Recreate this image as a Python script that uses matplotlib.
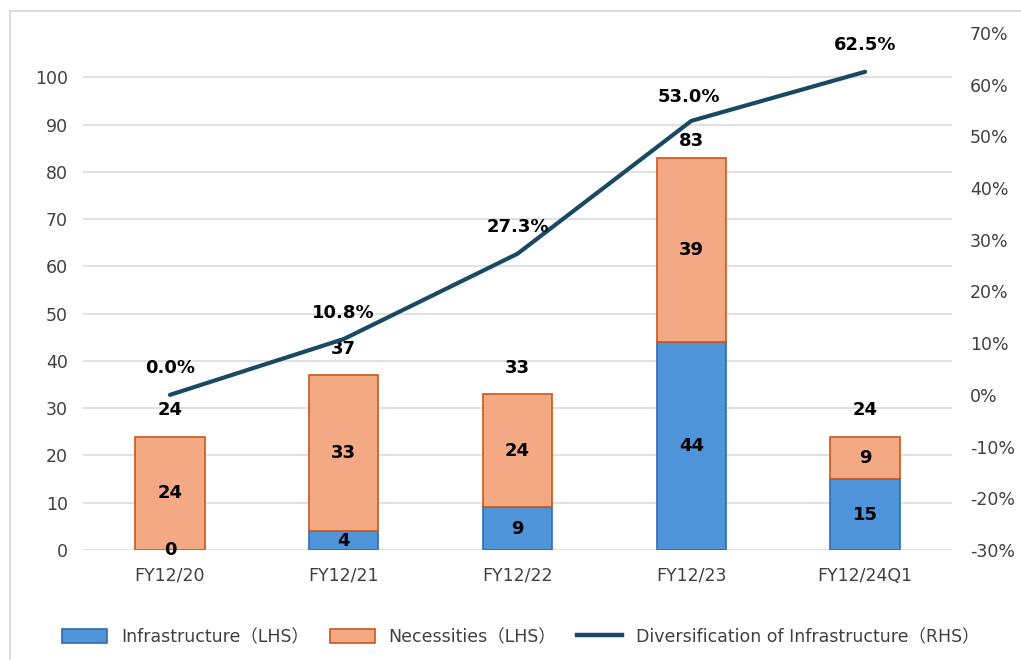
import matplotlib
matplotlib.use("Agg")
import matplotlib.pyplot as plt
from matplotlib.lines import Line2D
import numpy as np

# values in units (LHS) and share of infrastructure in % (RHS)
categories = ["FY12/20", "FY12/21", "FY12/22", "FY12/23", "FY12/24Q1"]
infrastructure = [0, 4, 9, 44, 15]
necessities = [24, 33, 24, 39, 9]
diversification = [0.0, 10.8, 27.3, 53.0, 62.5]

plt.rcParams['font.family'] = ['DejaVu Sans', 'Noto Sans CJK JP']

BLUE, BLUE_EDGE = "#4F93D9", "#2F6CB0"
ORANGE, ORANGE_EDGE = "#F3AA84", "#C9581A"
LINE = "#1A4A63"
GRID = "#D9D9D9"
TXT = "#404040"

fig = plt.figure(figsize=(10.21, 6.6), dpi=100)
ax = fig.add_axes([0.0813, 0.1667, 0.8511, 0.7833])

x = np.arange(len(categories))
totals = [a + b for a, b in zip(infrastructure, necessities)]
w = 0.40
ax.bar(x, infrastructure, w, color=BLUE, edgecolor=BLUE_EDGE, linewidth=1.2, zorder=2)
ax.bar(x, necessities, w, bottom=infrastructure, color=ORANGE, edgecolor=ORANGE_EDGE,
       linewidth=1.2, zorder=2)

ax.set_xlim(-0.5, len(categories) - 0.5)
ax.set_ylim(0, 109.4)
ax.set_yticks(range(0, 101, 10))
ax.set_xticks(x)
ax.set_xticklabels(categories)
ax.grid(axis='y', color=GRID, linewidth=1.1, zorder=0)
ax.set_axisbelow(True)
for s in ax.spines.values():
    s.set_visible(False)
ax.tick_params(axis='y', length=0, pad=11, labelsize=12.5, labelcolor=TXT)
ax.tick_params(axis='x', length=0, pad=12, labelsize=12.5, labelcolor=TXT)

# segment labels
for i in range(len(categories)):
    ax.text(x[i], infrastructure[i] / 2, str(infrastructure[i]), ha='center', va='center',
            fontsize=13, fontweight='bold', color='black', zorder=4)
    ax.text(x[i], infrastructure[i] + necessities[i] / 2, str(necessities[i]), ha='center',
            va='center', fontsize=13, fontweight='bold', color='black', zorder=4)

# totals above the stacks
total_offsets = [19, 19, 19, 12, 19]
for i in range(len(categories)):
    ax.annotate(str(totals[i]), (x[i], totals[i]), xytext=(0, total_offsets[i]),
                textcoords='offset points', ha='center', va='center',
                fontsize=13, fontweight='bold', color='black')

ax2 = ax.twinx()
ax2.plot(x, diversification, color=LINE, linewidth=3.0, solid_capstyle='round', zorder=3)
ax2.set_ylim(-30, 70)
ax2.set_yticks(range(-30, 71, 10))
ax2.set_yticklabels([f"{v}%" for v in range(-30, 71, 10)])
for s in ax2.spines.values():
    s.set_visible(False)
ax2.tick_params(axis='y', length=0, pad=13, labelsize=12.5, labelcolor=TXT)

pct_offsets = [(0, 19), (0, 19), (0, 19), (-2, 17), (0, 19)]
for i in range(len(categories)):
    ax2.annotate(f"{diversification[i]:.1f}%", (x[i], diversification[i]),
                 xytext=pct_offsets[i], textcoords='offset points', ha='center', va='center',
                 fontsize=13, fontweight='bold', color='black')

handles = [
    plt.Rectangle((0, 0), 1, 1, facecolor=BLUE, edgecolor=BLUE_EDGE, linewidth=1.2),
    plt.Rectangle((0, 0), 1, 1, facecolor=ORANGE, edgecolor=ORANGE_EDGE, linewidth=1.2),
    Line2D([0], [0], color=LINE, linewidth=3.2),
]
labels = ["Infrastructure（LHS）", "Necessities（LHS）",
          "Diversification of Infrastructure（RHS）"]
fig.legend(handles, labels, loc='center', bbox_to_anchor=(0.51, 0.035), ncol=3,
           frameon=False, fontsize=12.5, handlelength=2.6, handleheight=0.9,
           columnspacing=1.2, handletextpad=0.8, labelcolor=TXT)

# outer frame
fig.add_artist(Line2D([10 / 1021, 10 / 1021], [0, 1 - 11 / 660], color=GRID, linewidth=1.3))
fig.add_artist(Line2D([10 / 1021, 1], [1 - 11 / 660, 1 - 11 / 660], color=GRID, linewidth=1.3))

fig.savefig("out.png", dpi=100)
